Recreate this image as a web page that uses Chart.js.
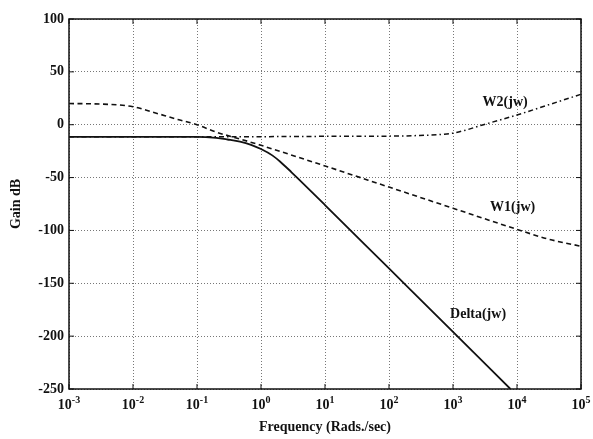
<!DOCTYPE html>
<html>
<head>
<meta charset="utf-8">
<script src="https://cdn.jsdelivr.net/npm/chart.js@4/dist/chart.umd.min.js"></script>
<style>
  html, body { margin: 0; padding: 0; background: #fff; }
  canvas { display: block; }
</style>
</head>
<body>
<canvas id="c" width="593" height="439"></canvas>
<script>
// ---- Data ----
const w1Freq  = [1e-3, 3e-3, 1e-2, 2e-2, 5e-2, 0.1, 0.2, 0.5, 1, 10, 100, 1000, 1e4, 3e4, 1e5];
const w1Gain  = [20, 19.6, 17, 12, 5, 0, -7, -14, -19.5, -39, -59, -79, -99, -108, -115];

const w2Freq  = [1e-3, 1e-2, 0.1, 1, 10, 100, 300, 700, 1000, 1500, 2800, 1e4, 3e4, 1e5];
const w2Gain  = [-11.5, -11.5, -11.4, -11.3, -11, -10.8, -10.2, -9, -8, -5.5, -0.5, 9.2, 18.5, 28.8];

const dFreq   = [1e-3, 1e-2, 0.1, 0.2, 0.3, 0.47, 0.7, 1, 1.5, 2, 3, 3.8, 10, 100, 1000, 7900];
const dGain   = [-11.5, -11.5, -11.5, -12.5, -14, -16, -19, -23, -29, -35, -45, -51, -76, -136, -196, -250];

const xTickValues    = [1e-3, 1e-2, 1e-1, 1e0, 1e1, 1e2, 1e3, 1e4, 1e5];
const xTickExponents = ['-3', '-2', '-1', '0', '1', '2', '3', '4', '5'];
const yTickValues    = [100, 50, 0, -50, -100, -150, -200, -250];

const curveLabels  = ['W2(jw)', 'W1(jw)', 'Delta(jw)'];
const labelFreq    = [2900, 3800, 900];
const labelGain    = [21, -78, -179];

const toPts = (xs, ys) => xs.map((x, i) => ({ x: x, y: ys[i] }));

const SERIF = '"Liberation Serif", "Times New Roman", serif';
const INK = '#111';

const decorPlugin = {
  id: 'decor',
  afterDraw(chart) {
    const ctx = chart.ctx;
    const a = chart.chartArea;
    const xs = chart.scales.x, ys = chart.scales.y;
    ctx.save();
    ctx.strokeStyle = INK;
    ctx.lineWidth = 1.5;
    ctx.setLineDash([]);
    ctx.strokeRect(a.left, a.top, a.right - a.left, a.bottom - a.top);
    ctx.lineWidth = 1;
    const tl = 5;
    xTickValues.forEach(v => {
      const px = xs.getPixelForValue(v);
      ctx.beginPath();
      ctx.moveTo(px, a.bottom); ctx.lineTo(px, a.bottom - tl);
      ctx.moveTo(px, a.top); ctx.lineTo(px, a.top + tl);
      ctx.stroke();
    });
    yTickValues.forEach(v => {
      const py = ys.getPixelForValue(v);
      ctx.beginPath();
      ctx.moveTo(a.left, py); ctx.lineTo(a.left + tl, py);
      ctx.moveTo(a.right, py); ctx.lineTo(a.right - tl, py);
      ctx.stroke();
    });
    ctx.fillStyle = INK;
    ctx.textBaseline = 'alphabetic';
    xTickValues.forEach((v, i) => {
      const px = xs.getPixelForValue(v);
      ctx.font = 'bold 14px ' + SERIF;
      const bw = ctx.measureText('10').width;
      ctx.font = 'bold 10px ' + SERIF;
      const ew = ctx.measureText(xTickExponents[i]).width;
      const start = px - (bw + ew) / 2;
      ctx.textAlign = 'left';
      ctx.font = 'bold 14px ' + SERIF;
      ctx.fillText('10', start, a.bottom + 20);
      ctx.font = 'bold 10px ' + SERIF;
      ctx.fillText(xTickExponents[i], start + bw, a.bottom + 14);
    });
    ctx.font = 'bold 14px ' + SERIF;
    ctx.textAlign = 'left';
    ctx.textBaseline = 'middle';
    curveLabels.forEach((t, i) => {
      ctx.fillText(t, xs.getPixelForValue(labelFreq[i]), ys.getPixelForValue(labelGain[i]));
    });
    ctx.restore();
  }
};

new Chart(document.getElementById('c'), {
  type: 'line',
  data: {
    datasets: [
      {
        label: 'W1(jw)',
        data: toPts(w1Freq, w1Gain),
        borderColor: INK, borderWidth: 1.6,
        borderDash: [5, 3.5],
        pointRadius: 0, fill: false, cubicInterpolationMode: 'monotone'
      },
      {
        label: 'W2(jw)',
        data: toPts(w2Freq, w2Gain),
        borderColor: INK, borderWidth: 1.5,
        borderDash: [5, 3, 1.5, 3],
        pointRadius: 0, fill: false, cubicInterpolationMode: 'monotone'
      },
      {
        label: 'Delta(jw)',
        data: toPts(dFreq, dGain),
        borderColor: INK, borderWidth: 1.8,
        pointRadius: 0, fill: false, cubicInterpolationMode: 'monotone'
      }
    ]
  },
  options: {
    responsive: false,
    animation: false,
    devicePixelRatio: 1,
    layout: { padding: { left: 0, right: 12, top: 19, bottom: 0 } },
    plugins: { legend: { display: false }, tooltip: { enabled: false } },
    scales: {
      x: {
        type: 'logarithmic',
        position: 'bottom',
        min: 1e-3, max: 1e5,
        afterBuildTicks: s => { s.ticks = xTickValues.map(v => ({ value: v })); },
        afterFit: s => { s.height = 50; },
        ticks: { display: false },
        grid: { color: '#777', lineWidth: 1, drawTicks: false },
        border: { display: false, dash: [1, 2] },
        title: {
          display: true,
          text: 'Frequency (Rads./sec)',
          color: INK,
          font: { family: SERIF, size: 14, weight: 'bold' },
          padding: { top: 0, bottom: 3 }
        }
      },
      y: {
        type: 'linear',
        min: -250, max: 100,
        afterBuildTicks: s => { s.ticks = yTickValues.map(v => ({ value: v })); },
        afterFit: s => { s.width = 69; },
        ticks: {
          color: INK,
          padding: 5,
          font: { family: SERIF, size: 14, weight: 'bold' },
          callback: v => String(v)
        },
        grid: { color: '#777', lineWidth: 1, drawTicks: false },
        border: { display: false, dash: [1, 2] },
        title: {
          display: true,
          text: 'Gain dB',
          color: INK,
          font: { family: SERIF, size: 14, weight: 'bold' },
          padding: { top: 8, bottom: 0 }
        }
      }
    }
  },
  plugins: [decorPlugin]
});
</script>
</body>
</html>
